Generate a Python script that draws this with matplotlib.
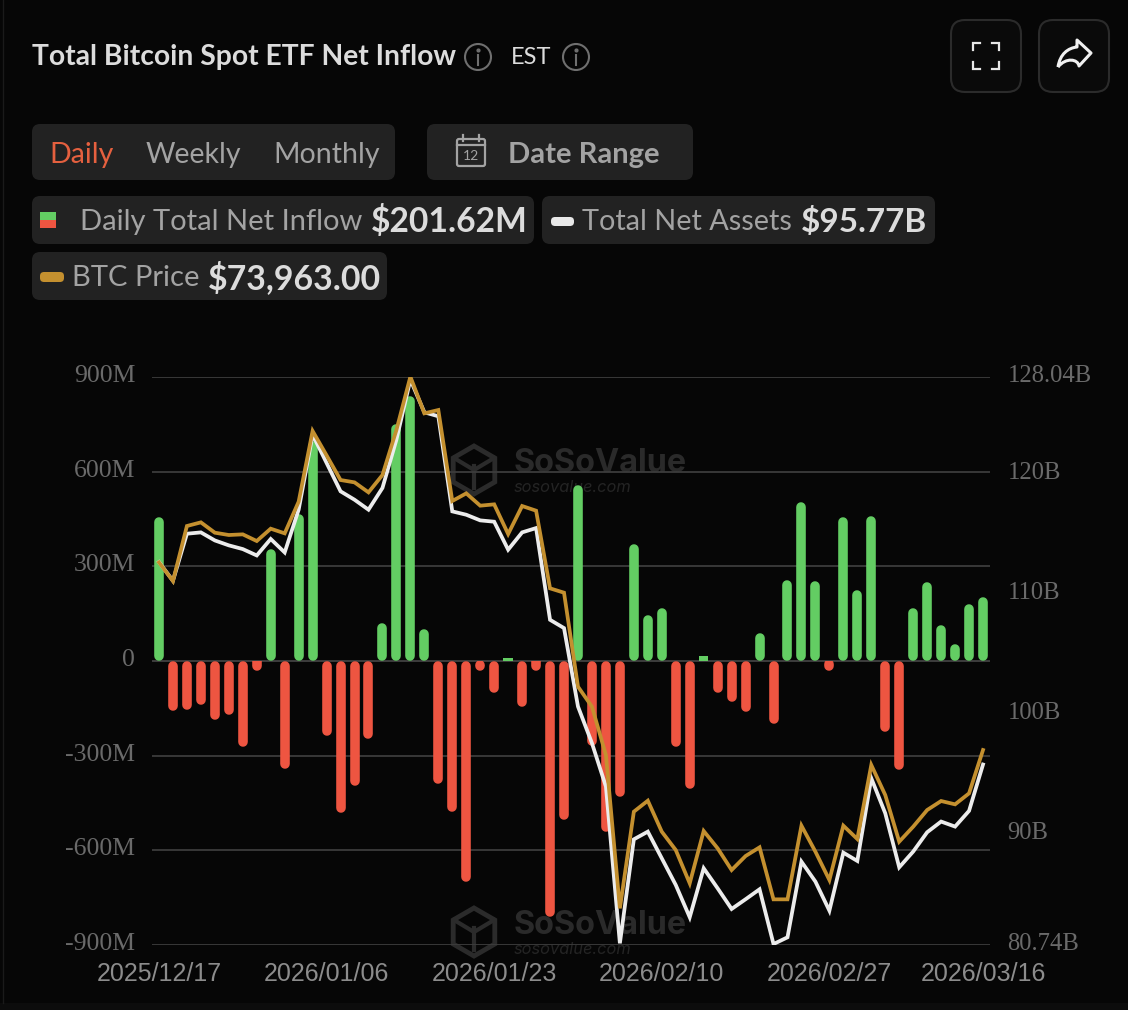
import matplotlib
matplotlib.use("Agg")
import matplotlib.pyplot as plt
import numpy as np
from matplotlib.patches import FancyBboxPatch, Circle, Rectangle, RegularPolygon, PathPatch
from matplotlib.path import Path
from matplotlib.transforms import ScaledTranslation

W, H = 1128, 1010
BG = "#060606"
PANEL = "#222222"
GREEN = "#63cd63"
RED = "#ee5541"
GOLD = "#c4902f"
WHITE_LINE = "#ececec"
GRID = "#3c3c3c"

# values, one per trading day
net_inflow = [455, -158, -155, -138, -185, -171, -271, -16, 354, -342,
              466, 695, -238, -481, -394, -246, 118, 751, 839, 101,
              -390, -478, -701, -29, -101, 8, -144, -16, -810, -504,
              557, -267, -540, -429, 369, 145, 166, -272, -405, 15,
              -102, -130, -162, 87, -200, 256, 503, 253, -26, 456,
              224, 460, -225, -345, 166, 250, 113, 54, 180, 201.62]
net_assets = [112.63, 111.07, 114.99, 115.10, 114.43, 114.02, 113.71, 113.18, 114.55, 113.43,
              116.99, 123.24, 120.88, 118.52, 117.82, 116.99, 118.80, 122.82, 127.82, 125.10,
              124.77, 116.85, 116.57, 116.10, 115.99, 113.66, 115.10, 115.46, 107.82, 107.13,
              100.60, 97.55, 93.93, 80.88, 89.54, 90.18, 87.96, 85.74, 83.05, 87.13,
              85.46, 83.74, 84.55, 85.38, 80.82, 81.38, 87.68, 86.02, 83.60, 88.43,
              87.74, 94.63, 91.71, 87.21, 88.52, 90.13, 91.02, 90.60, 91.91, 95.77]
btc_price = [85553, 84400, 87797, 88023, 87385, 87241, 87282, 86870, 87632, 87344,
             89300, 93664, 92161, 90638, 90493, 89876, 90946, 93726, 97020, 94755,
             94961, 89341, 89814, 89053, 89135, 87303, 89032, 88744, 83947, 83679,
             77874, 76639, 73653, 64184, 70154, 70833, 68919, 67786, 65728, 68960,
             67889, 66551, 67416, 67951, 64740, 64740, 69289, 67684, 65934, 69289,
             68466, 73036, 71183, 68301, 69228, 70257, 70813, 70607, 71286, 73963]

date_ticks = [0, 12, 24, 36, 48, 59]
date_labels = ["2025/12/17", "2026/01/06", "2026/01/23", "2026/02/10", "2026/02/27", "2026/03/16"]
left_ticks = [-900, -600, -300, 0, 300, 600, 900]
left_labels = ["-900M", "-600M", "-300M", "0", "300M", "600M", "900M"]
right_ticks = [80.74, 90, 100, 110, 120, 128.04]
right_labels = ["80.74B", "90B", "100B", "110B", "120B", "128.04B"]

fig = plt.figure(figsize=(W / 100, H / 100), dpi=100, facecolor=BG)

# page furniture is laid out in pixels, y going down
ui = fig.add_axes([0, 0, 1, 1], zorder=0)
ui.set_xlim(0, W)
ui.set_ylim(H, 0)
ui.axis("off")


def box(x0, y0, x1, y1, fc=PANEL, ec="none", r=8, lw=0):
    ui.add_patch(FancyBboxPatch((x0 + r, y0 + r), x1 - x0 - 2 * r, y1 - y0 - 2 * r,
                                boxstyle=f"round,pad={r},rounding_size={r}",
                                fc=fc, ec=ec, lw=lw))


def label(x, y, s, color="#a3a3a3", size=20, weight="normal", ha="left"):
    ui.text(x, y + 2, s, color=color, fontsize=size, fontweight=weight, ha=ha, va="center",
            family="Lato")


def info_icon(x, y):
    ui.add_patch(Circle((x, y), 13, fc="none", ec="#6f6f6f", lw=1.5))
    ui.plot([x, x], [y - 2, y + 8], color="#6f6f6f", lw=1.5)
    ui.plot([x], [y - 7], "o", color="#6f6f6f", ms=2)


ui.add_patch(Rectangle((0, 1003), W, 7, fc="#0c0c0c", ec="none"))
ui.plot([3, 3], [0, 1003], color="#1a1a1a", lw=1)

label(32, 55.5, "Total Bitcoin Spot ETF Net Inflow", color="#dcdcdc", size=20.3, weight="bold")
info_icon(478, 57)
label(511, 55, "EST", color="#dcdcdc", size=17)
info_icon(576, 57)

# fullscreen and share buttons
box(951, 20, 1021, 92, fc="#0a0a0a", ec="#2b2b2b", r=14, lw=1.5)
box(1039, 20, 1109, 92, fc="#0a0a0a", ec="#2b2b2b", r=14, lw=1.5)
for sx, sy in [(973, 43), (999, 43), (973, 69), (999, 69)]:
    dx = 7 if sx < 986 else -7
    dy = 7 if sy < 56 else -7
    ui.plot([sx + dx, sx, sx], [sy, sy, sy + dy], color="#e6e6e6", lw=1.6, solid_joinstyle="miter")
arrow = Path([(1058, 67), (1060, 54), (1068, 48), (1077, 47), (1077, 40), (1091, 53),
              (1079, 66), (1078, 59), (1066, 57), (1058, 67)],
             [Path.MOVETO, Path.CURVE4, Path.CURVE4, Path.CURVE4, Path.LINETO, Path.LINETO,
              Path.LINETO, Path.CURVE4, Path.CURVE4, Path.CURVE4])
ui.add_patch(PathPatch(arrow, fc="none", ec="#f0f0f0", lw=2.2, joinstyle="round"))

# period switch and date range
box(32, 124, 395, 180)
label(49, 153, "Daily", color="#e5603f", size=20.5)
label(146, 153, "Weekly", size=20.5)
label(273, 153, "Monthly", size=20.5)
box(427, 124, 693, 180)
ui.add_patch(FancyBboxPatch((457, 139), 28, 27, boxstyle="round,pad=0,rounding_size=2",
                            fc="none", ec="#a3a3a3", lw=1.6))
ui.plot([457, 485], [145, 145], color="#a3a3a3", lw=1.6)
ui.plot([463, 463], [135, 141], color="#a3a3a3", lw=1.6)
ui.plot([479, 479], [135, 141], color="#a3a3a3", lw=1.6)
ui.text(471, 156, "12", color="#a3a3a3", fontsize=10, ha="center", va="center", family="Lato")
label(508, 153, "Date Range", size=21, weight="bold")

# legend chips
box(32, 196, 534, 244)
ui.add_patch(Rectangle((40, 212), 16, 8, fc=GREEN, ec="none"))
ui.add_patch(Rectangle((40, 220), 16, 8, fc=RED, ec="none"))
label(80, 220, "Daily Total Net Inflow", size=21)
label(371, 220, "$201.62M", color="#dcdcdc", size=24.2, weight="bold")
box(542, 196, 935, 244)
box(551, 217, 574, 226, fc="#e8e8e8", r=4)
label(582, 220, "Total Net Assets", size=20.8)
label(801, 220, "$95.77B", color="#dcdcdc", size=24, weight="bold")
box(32, 252, 387, 300)
box(40, 272, 64, 282, fc=GOLD, r=4)
label(72, 276, "BTC Price", size=21)
label(208, 276, "$73,963.00", color="#dcdcdc", size=24.4, weight="bold")

# chart area, three scales sharing the x axis
ax = fig.add_axes([152 / W, 1 - 945 / H, 838 / W, 568 / H], zorder=1)
ax.patch.set_alpha(0)
ax_assets = ax.twinx()
ax_price = ax.twinx()
ax.set_xlim(-0.5, 59.5)
ax.set_ylim(-900, 900)
ax_assets.set_ylim(80.74, 128.04)
ax_price.set_ylim(61920, 97000)

ax.set_yticks(left_ticks, left_labels)
ax_assets.set_yticks(right_ticks, right_labels)
ax.set_xticks(date_ticks, date_labels)
ax.grid(axis="y", color=GRID, lw=1.3, zorder=1)
ax.set_axisbelow(True)
ax.tick_params(axis="x", length=0, pad=12, labelsize=18, labelcolor="#8c8c8c")
ax.tick_params(axis="y", length=0, pad=12, labelsize=18.5, labelcolor="#6a6a6a")
ax_assets.tick_params(axis="y", length=0, pad=12.5, labelsize=17.7, labelcolor="#6a6a6a")
ax_price.set_yticks([])
for a in (ax, ax_assets, ax_price):
    for spine in a.spines.values():
        spine.set_visible(False)
for t in ax.get_xticklabels():
    t.set_family("Liberation Sans")
up = ScaledTranslation(0, 2.5 / 72, fig.dpi_scale_trans)
for t in ax.get_yticklabels() + ax_assets.get_yticklabels():
    t.set_family("Liberation Serif")
    t.set_transform(t.get_transform() + up)

# bars have round ends; the ends add their radius, so pull the segments in by it
days = np.arange(len(net_inflow))
flows = np.array(net_inflow, dtype=float)
r_val = 15
bar_lw = 9.6 * 72 / 100
is_up = flows > 2 * r_val
is_tiny = (flows > 0) & ~is_up
is_down = flows < 0
ax.vlines(days[is_up], r_val, flows[is_up] - r_val, color=GREEN, lw=bar_lw, capstyle="round", zorder=3)
ax.bar(days[is_tiny], flows[is_tiny], width=0.68, color=GREEN, zorder=3)
reds = ax.vlines(days[is_down], flows[is_down] + r_val, -r_val, color=RED, lw=bar_lw, capstyle="round", zorder=3)
reds.set_clip_path(Rectangle((-1, -900), 62, 900, transform=ax.transData))

ax.axhline(0, color=GRID, lw=1.3, zorder=2)

ax_assets.plot(days, net_assets, color=WHITE_LINE, lw=2.7, solid_joinstyle="miter", zorder=4)
ax_price.plot(days, btc_price, color=GOLD, lw=2.7, solid_joinstyle="miter", zorder=5)

# watermarks, behind the marks
for wy in (464, 926):
    ui.add_patch(RegularPolygon((474, wy + 6), 6, radius=24, fc="none", ec="#2b2b2b", lw=3.5))
    ui.plot([474, 474], [wy + 2, wy + 24], color="#2b2b2b", lw=3)
    ui.plot([454, 474, 494], [wy - 6, wy + 6, wy - 6], color="#2b2b2b", lw=3)
    ui.text(514, wy, "SoSoValue", color="#2a2a2a", fontsize=23.3, fontweight="bold",
            family="Inter", va="center")
    ui.text(514, wy + 23.5, "sosovalue.com", color="#242424", fontsize=11.8, style="italic",
            family="Inter", va="center")

fig.savefig("out.png", dpi=100, facecolor=BG)
